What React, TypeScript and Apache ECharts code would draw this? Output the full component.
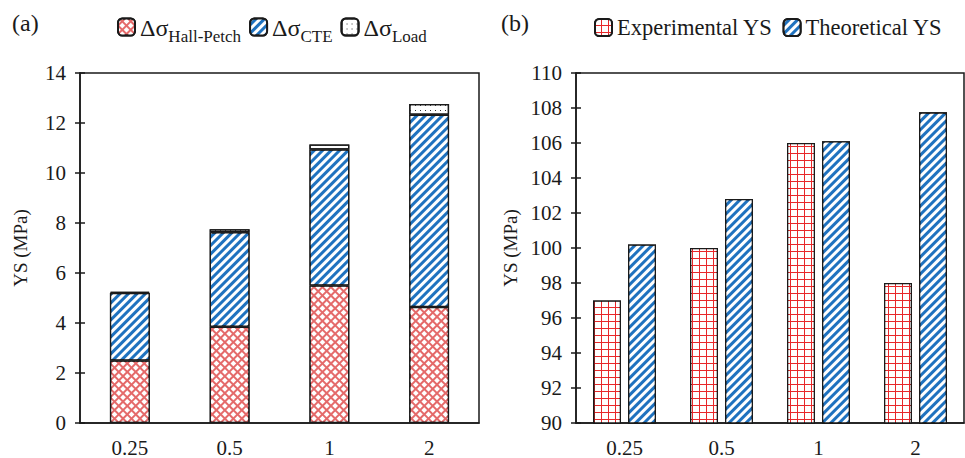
import React, { useEffect, useRef } from "react";
import * as echarts from "echarts";

const categoriesA = ["0.25", "0.5", "1", "2"];
const hallPetch = [2.5, 3.85, 5.5, 4.64];
const cte = [2.7, 3.78, 5.44, 7.69];
const load = [0.05, 0.12, 0.2, 0.43];

const categoriesB = ["0.25", "0.5", "1", "2"];
const experimental = [97, 100, 106, 98];
const theoretical = [100.2, 102.8, 106.1, 107.75];

const FONT = "'Liberation Serif', 'Times New Roman', 'DejaVu Serif', serif";

export default function App() {
  const ref = useRef<HTMLDivElement>(null);
  useEffect(() => {
    if (!ref.current) return;
    const chart = echarts.init(ref.current, null, { renderer: "svg" });
    const hpDecal = { color: "#ffffff", symbol: "rect", dashArrayX: [4, 1.3], dashArrayY: [4, 1.3], rotation: Math.PI / 4 };
    const cteDecal = { color: "#ffffff", symbol: "rect", dashArrayX: [1, 0], dashArrayY: [2.4, 2.2], rotation: -Math.PI / 4 };
    const loadDecal = { color: "#333333", symbol: "rect", dashArrayX: [1, 4], dashArrayY: [1, 4], rotation: 0 };
    const expDecal = { color: "#ffffff", symbol: "rect", dashArrayX: [5.6, 1], dashArrayY: [5.6, 1], rotation: 0 };
    const border = { borderColor: "#1a1a1a", borderWidth: 1.3 };
    const axisLabel = { color: "#1a1a1a", fontFamily: FONT, fontSize: 21 };
    const legendName: Record<string, string> = {
      HP: "{d|Δσ}{s|Hall-Petch}",
      CTE: "{d|Δσ}{s|CTE}",
      Load: "{d|Δσ}{s|Load}",
    };
    const yAxisBase = (gridIndex: number, min: number, max: number, interval: number, showLabels: boolean, inside: boolean) => ({
      type: "value",
      gridIndex,
      min,
      max,
      interval,
      position: "left",
      name: showLabels ? "YS (MPa)" : "",
      nameLocation: "middle",
      nameGap: gridIndex === 0 ? 50 : 56,
      nameTextStyle: { fontFamily: FONT, fontSize: 19, color: "#1a1a1a" },
      axisLine: { show: showLabels, lineStyle: { color: "#1a1a1a", width: 1.5 } },
      axisTick: { show: true, inside, length: 5, lineStyle: { color: "#1a1a1a", width: 1.5 } },
      axisLabel: { ...axisLabel, show: showLabels, margin: 14 },
      splitLine: { show: false },
    });
    chart.setOption({
      animation: false,
      backgroundColor: "#ffffff",
      title: [
        { text: "(a)", left: 7, top: 6, textStyle: { fontFamily: FONT, fontSize: 24, fontWeight: "normal", color: "#1a1a1a" } },
        { text: "(b)", left: 496, top: 6, textStyle: { fontFamily: FONT, fontSize: 24, fontWeight: "normal", color: "#1a1a1a" } },
      ],
      legend: [
        {
          left: 112,
          top: 11,
          width: 360,
          itemWidth: 17,
          itemHeight: 17,
          itemGap: 8,
          data: ["HP", "CTE", "Load"],
          formatter: (n: string) => legendName[n],
          textStyle: {
            color: "#1a1a1a",
            fontFamily: FONT,
            rich: {
              d: { fontFamily: FONT, fontSize: 24, color: "#1a1a1a", lineHeight: 22, verticalAlign: "top" },
              s: { fontFamily: FONT, fontSize: 17, color: "#1a1a1a", lineHeight: 17, padding: [12, 0, 0, 0], verticalAlign: "top" },
            },
          },
        },
        {
          left: 589,
          top: 11,
          width: 376,
          itemWidth: 17,
          itemHeight: 17,
          itemGap: 10,
          data: ["Experimental YS", "Theoretical YS"],
          textStyle: { color: "#1a1a1a", fontFamily: FONT, fontSize: 22.5 },
        },
      ],
      grid: [
        { left: 80, top: 73, width: 399, height: 352, show: true, borderColor: "#1a1a1a", borderWidth: 1.5, backgroundColor: "transparent" },
        { left: 576, top: 73, width: 388, height: 352, show: true, borderColor: "#1a1a1a", borderWidth: 1.5, backgroundColor: "transparent" },
      ],
      xAxis: [
        {
          type: "category",
          gridIndex: 0,
          data: categoriesA,
          axisLine: { lineStyle: { color: "#1a1a1a", width: 1.5 } },
          axisTick: { show: false },
          axisLabel: { ...axisLabel, margin: 14 },
        },
        {
          type: "category",
          gridIndex: 1,
          data: categoriesB,
          axisLine: { lineStyle: { color: "#1a1a1a", width: 1.5 } },
          axisTick: { show: false },
          axisLabel: { ...axisLabel, margin: 14 },
        },
      ],
      yAxis: [
        yAxisBase(0, 0, 14, 2, true, false),
        yAxisBase(0, 0, 14, 2, false, true),
        yAxisBase(1, 90, 110, 2, true, false),
        yAxisBase(1, 90, 110, 2, false, true),
      ],
      series: [
        {
          name: "HP",
          type: "bar",
          stack: "a",
          xAxisIndex: 0,
          yAxisIndex: 0,
          barWidth: "40%",
          data: hallPetch,
          itemStyle: { color: "#e46a6a", decal: hpDecal, ...border },
        },
        {
          name: "CTE",
          type: "bar",
          stack: "a",
          xAxisIndex: 0,
          yAxisIndex: 0,
          barWidth: "40%",
          data: cte,
          itemStyle: { color: "#1f72bf", decal: cteDecal, ...border },
        },
        {
          name: "Load",
          type: "bar",
          stack: "a",
          xAxisIndex: 0,
          yAxisIndex: 0,
          barWidth: "40%",
          data: load,
          itemStyle: { color: "#ffffff", decal: loadDecal, ...border },
        },
        {
          name: "Experimental YS",
          type: "bar",
          xAxisIndex: 1,
          yAxisIndex: 2,
          barWidth: 28,
          barGap: "25%",
          data: experimental,
          itemStyle: { color: "#e8282a", decal: expDecal, ...border },
        },
        {
          name: "Theoretical YS",
          type: "bar",
          xAxisIndex: 1,
          yAxisIndex: 2,
          barWidth: 28,
          barGap: "25%",
          data: theoretical,
          itemStyle: { color: "#1f72bf", decal: cteDecal, ...border },
        },
      ],
    });
    return () => chart.dispose();
  }, []);
  return (
    <div
      ref={ref}
      style={{ position: "fixed", left: 0, top: 0, width: 965, height: 458, background: "#fff" }}
    />
  );
}
